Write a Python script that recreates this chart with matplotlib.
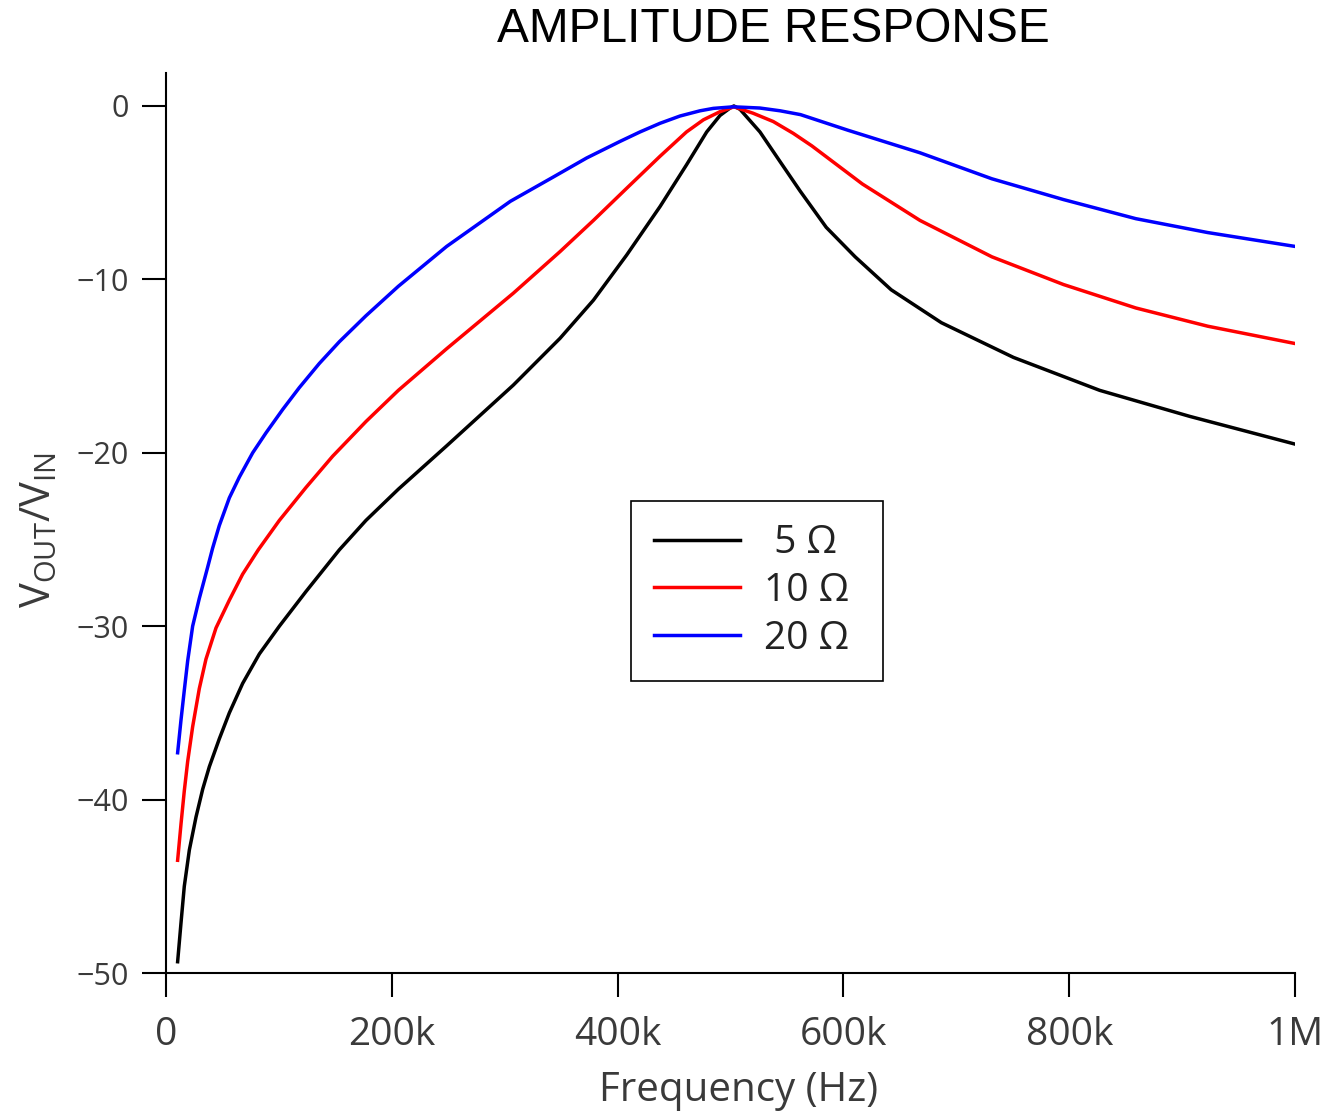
import matplotlib
matplotlib.use("Agg")
import matplotlib.pyplot as plt
from matplotlib.ticker import FixedLocator, FixedFormatter

# ---- data (frequency in kHz, amplitude in dB) ----
f_5 = [10.3, 13.3, 16.2, 20.7, 26.6, 32.5, 38.4, 47.2, 56.1, 67.9, 82.7, 100.4,
       124.0, 153.5, 177.1, 205.8, 248.6, 307.6, 349.0, 378.6, 408.0, 437.6,
       461.0, 478.9, 490.7, 499.6, 503.0, 508.5, 526.1, 543.8, 561.6, 584.8,
       610.4, 642.3, 686.8, 750.6, 827.0, 906.7, 1000.0]
db_5 = [-49.35, -47.1, -45.0, -42.9, -41.0, -39.4, -38.1, -36.5, -35.0, -33.3,
        -31.6, -30.0, -28.0, -25.6, -23.9, -22.1, -19.6, -16.1, -13.4, -11.2,
        -8.6, -5.8, -3.4, -1.5, -0.55, -0.12, 0.0, -0.2, -1.5, -3.2, -4.9, -7.0,
        -8.7, -10.6, -12.5, -14.5, -16.4, -17.9, -19.5]

f_10 = [10.3, 13.3, 16.2, 19.2, 23.6, 29.5, 35.4, 44.3, 56.1, 67.9, 81.7, 100.4,
        124.0, 147.6, 177.1, 205.8, 248.6, 307.6, 349.0, 378.6, 408.0, 437.6,
        461.0, 476.0, 490.7, 503.0, 520.0, 537.9, 555.6, 572.0, 616.8, 667.8,
        731.5, 795.0, 859.0, 922.6, 1000.0]
db_10 = [-43.5, -41.4, -39.5, -37.8, -35.8, -33.6, -31.9, -30.1, -28.5, -27.0,
         -25.6, -23.9, -22.0, -20.2, -18.2, -16.4, -14.0, -10.8, -8.4, -6.6,
         -4.75, -2.9, -1.5, -0.8, -0.33, -0.05, -0.42, -0.9, -1.58, -2.3, -4.5,
         -6.6, -8.7, -10.3, -11.65, -12.7, -13.7]

f_20 = [10.3, 13.3, 16.2, 19.2, 23.6, 29.5, 36.9, 41.3, 47.2, 56.1, 65.0, 76.8,
        88.6, 103.4, 118.0, 135.8, 153.5, 177.1, 205.8, 248.6, 305.0, 343.0,
        372.6, 402.0, 419.8, 437.6, 455.3, 473.0, 484.8, 502.5, 526.0, 544.0,
        562.0, 604.0, 667.8, 731.5, 795.0, 859.0, 922.6, 1000.0]
db_20 = [-37.3, -35.4, -33.7, -32.0, -30.0, -28.4, -26.6, -25.5, -24.2, -22.6,
         -21.4, -20.0, -18.85, -17.5, -16.25, -14.85, -13.6, -12.1, -10.4, -8.1,
         -5.5, -4.1, -3.0, -2.05, -1.5, -1.0, -0.58, -0.28, -0.14, -0.05,
         -0.12, -0.28, -0.5, -1.4, -2.7, -4.2, -5.4, -6.5, -7.3, -8.1]

series_labels = ["5 \u03a9", "10 \u03a9", "20 \u03a9"]
x_ticks_khz = [0, 200, 400, 600, 800, 1000]
x_tick_labels = ["0", "200k", "400k", "600k", "800k", "1M"]
y_ticks = [0, -10, -20, -30, -40, -50]

plt.rcParams['mathtext.fontset'] = 'custom'
plt.rcParams['mathtext.rm'] = 'Open Sans'
plt.rcParams['mathtext.it'] = 'Open Sans'

W, H = 1329, 1115
fig = plt.figure(figsize=(W / 100, H / 100), dpi=100)
ax = fig.add_axes([166 / W, 1 - 973 / H, (1295 - 166) / W, (973 - 73) / H])

lw = 2.5
ax.plot([v * 1000 for v in f_5], db_5, color='black', lw=lw,
        label=" " + series_labels[0] + " ")
ax.plot([v * 1000 for v in f_10], db_10, color='#ff0000', lw=lw,
        label=series_labels[1] + " ")
ax.plot([v * 1000 for v in f_20], db_20, color='#0000ff', lw=lw,
        label=series_labels[2] + " ")

ax.set_xlim(0, 1e6)
ax.set_ylim(-50, 1.9)
for s in ['top', 'right']:
    ax.spines[s].set_visible(False)
for s in ['left', 'bottom']:
    ax.spines[s].set_linewidth(1.5)

ax.xaxis.set_major_locator(FixedLocator([v * 1000 for v in x_ticks_khz]))
ax.xaxis.set_major_formatter(FixedFormatter(x_tick_labels))
ax.yaxis.set_major_locator(FixedLocator(y_ticks))
ax.set_yticklabels(["0" if v == 0 else "\u2212" + str(-v) for v in y_ticks])

tick_color = '#3a3a3a'
ax.tick_params(axis='both', direction='out', length=17, width=1.5, color='black')
ax.tick_params(axis='x', labelsize=28, pad=14, labelcolor=tick_color)
ax.tick_params(axis='y', labelsize=22, pad=10, labelcolor=tick_color)
for lab in ax.get_xticklabels() + ax.get_yticklabels():
    lab.set_family('Open Sans')

ax.set_xlabel("Frequency (Hz)", fontsize=29, family='Open Sans', color=tick_color)
ax.xaxis.set_label_coords(0.5075, -0.108)
ax.set_ylabel(r"V$_\mathrm{OUT}$/V$_\mathrm{IN}$", fontsize=30, family='Open Sans',
              color=tick_color)
ax.yaxis.set_label_coords(-0.094, 0.492)

fig.text(773 / W, 1 - 30 / H, "AMPLITUDE RESPONSE", family='Liberation Sans',
         fontsize=34.5, ha='center', va='center', color='black')

leg = ax.legend(loc='upper left', bbox_to_anchor=(631 / W, 1 - 501 / H),
                bbox_transform=fig.transFigure, borderaxespad=0,
                prop={'family': 'Open Sans', 'size': 28}, frameon=True,
                fancybox=False, edgecolor='black', framealpha=1,
                handlelength=2.2, handletextpad=0.62, labelspacing=0.25,
                borderpad=0.6)
leg.get_frame().set_linewidth(1.2)
for line in leg.get_lines():
    line.set_linewidth(2.5)
for t in leg.get_texts():
    t.set_color('#222222')

fig.savefig("out.png", dpi=100)
